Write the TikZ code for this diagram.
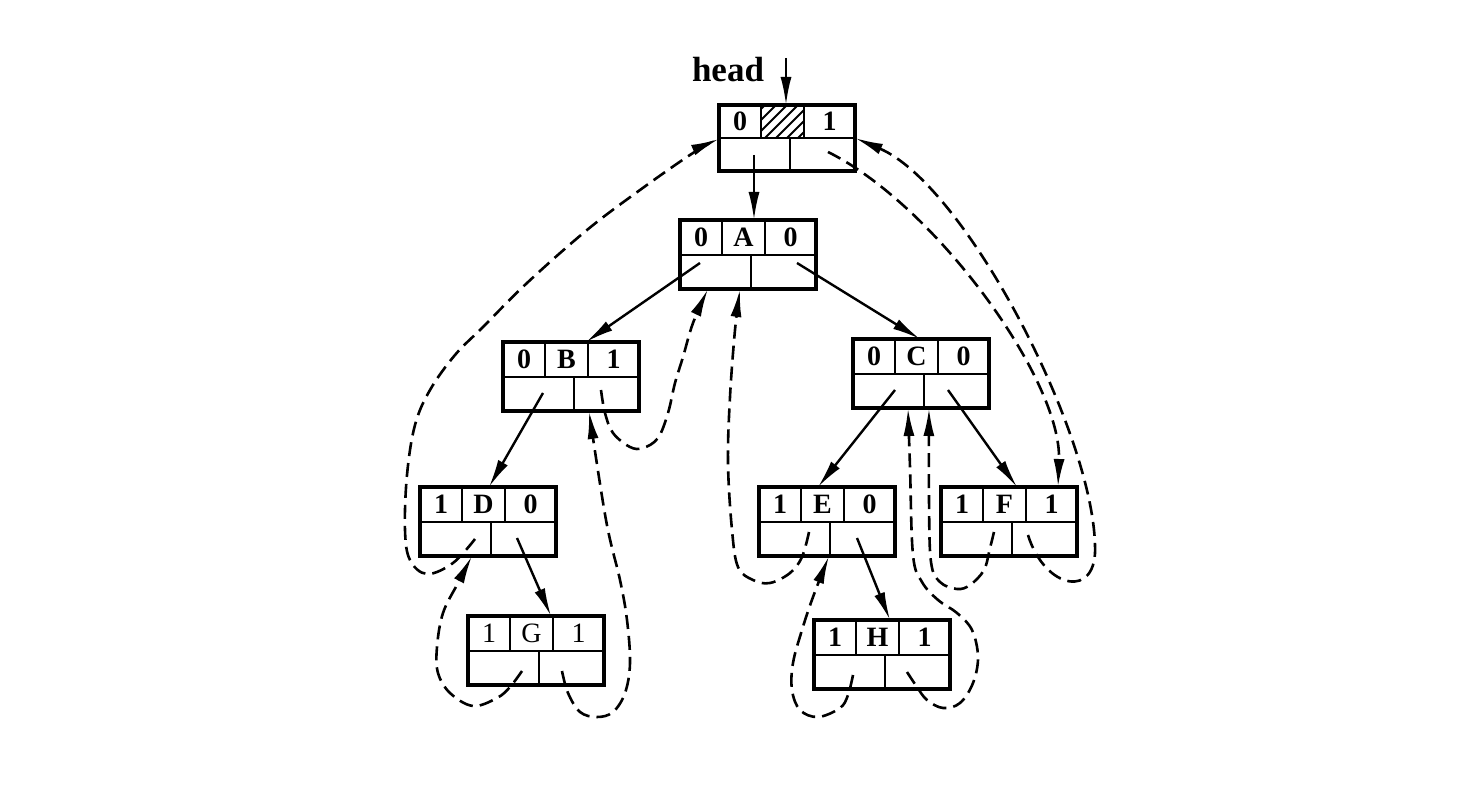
\documentclass[tikz,border=0pt]{standalone}
\usepackage{fontspec}
\setmainfont{Liberation Serif}
\usetikzlibrary{calc,arrows.meta}
\newcommand\bfl{\fontsize{14}{15}\selectfont\bfseries}
\newcommand\rgl{\fontsize{14}{15}\selectfont}
\newcommand\tbox[7]{%
  \node[box] (#1) at (#2,#3) {};
  \draw[div] ($(#1.north west)+(0,35)$) -- ($(#1.north east)+(0,35)$);
  \draw[div] ($(#1.north west)+(42,0)$) -- ($(#1.north west)+(42,35)$);
  \draw[div] ($(#1.north west)+(85,0)$) -- ($(#1.north west)+(85,35)$);
  \draw[div] ($(#1.north west)+(71,35)$) -- ($(#1.south west)+(71,0)$);
  \node[lab,font=#7] at ($(#1.north west)+(21,27)$) {#4};
  \node[lab,font=#7] at ($(#1.north west)+(63.5,27)$) {#5};
  \node[lab,font=#7] at ($(#1.north west)+(110.5,27)$) {#6};
}
\begin{document}
\begin{tikzpicture}[x=0.5pt,y=-0.5pt,
  box/.style={draw, line width=1.7pt, minimum width=68pt, minimum height=34.5pt,
    inner sep=0pt, outer sep=0pt, anchor=north west},
  div/.style={line width=1.2pt},
  lab/.style={anchor=base, inner sep=0pt},
  tree/.style={line width=1.2pt, -{Latex[length=14pt,width=5.5pt]}},
  thread/.style={line width=1.3pt, dash pattern=on 7pt off 3.5pt,
    -{Latex[length=14pt,width=5.5pt]}, smooth, tension=0.6}]
\useasboundingbox (0,0) rectangle (1480,790);

% head node
\node[lab, font=\fontsize{17.5}{18}\selectfont\bfseries] (headlbl) at (728,82) {head};
\node[box, minimum height=33pt] (head) at (719,105) {};
\begin{scope}
  \clip ($(head.north west)+(42,0)$) rectangle ($(head.north west)+(85,33)$);
  \foreach \i in {-40,-29,...,45}
    \draw[line width=1pt] ($(head.north west)+({42+\i},33)$) -- ++(36,-36);
\end{scope}
\draw[div] ($(head.north west)+(0,33)$) -- ($(head.north east)+(0,33)$);
\draw[div] ($(head.north west)+(42,0)$) -- ($(head.north west)+(42,33)$);
\draw[div] ($(head.north west)+(85,0)$) -- ($(head.north west)+(85,33)$);
\draw[div] ($(head.north west)+(71,33)$) -- ($(head.south west)+(71,0)$);
\node[lab,font=\bfl] at ($(head.north west)+(21,26)$) {0};
\node[lab,font=\bfl] at ($(head.north west)+(110.5,26)$) {1};

% tree nodes
\tbox{A}{680}{220}{0}{A}{0}{\bfl}
\tbox{B}{503}{342}{0}{B}{1}{\bfl}
\tbox{C}{853}{339}{0}{C}{0}{\bfl}
\tbox{D}{420}{487}{1}{D}{0}{\bfl}
\tbox{E}{759}{487}{1}{E}{0}{\bfl}
\tbox{F}{941}{487}{1}{F}{1}{\bfl}
\tbox{G}{468}{616}{1}{G}{1}{\rgl}
\tbox{H}{814}{620}{1}{H}{1}{\bfl}

% start points inside cells
\coordinate (htop) at (786,58);
\coordinate (hl) at (754,155);
\coordinate (hr) at (828,152);
\coordinate (Al) at (700,263);
\coordinate (Ar) at (797,263);
\coordinate (Bl) at (543,393);
\coordinate (Br) at (601,390);
\coordinate (Cl) at (895,390);
\coordinate (Cr) at (948,390);
\coordinate (Dl) at (475,539);
\coordinate (Dr) at (517,538);
\coordinate (El) at (809,532);
\coordinate (Er) at (857,538);
\coordinate (Fl) at (994,532);
\coordinate (Fr) at (1028,535);
\coordinate (Gl) at (522,671);
\coordinate (Gr) at (562,671);
\coordinate (Hl) at (853,675);
\coordinate (Hr) at (907,672);

% end points on box edges
\coordinate (hdT) at ($(head.north west)+(67,0)$);
\coordinate (hdW) at ($(head.north west)+(0,34)$);
\coordinate (hdE) at ($(head.north east)+(0,33)$);
\coordinate (AT) at ($(A.north west)+(74,0)$);
\coordinate (AB1) at ($(A.south west)+(28,0)$);
\coordinate (AB2) at ($(A.south west)+(60,0)$);
\coordinate (BT) at ($(B.north west)+(83,0)$);
\coordinate (BB) at ($(B.south west)+(86,0)$);
\coordinate (CT) at ($(C.north west)+(67,0)$);
\coordinate (CB1) at ($(C.south west)+(55,0)$);
\coordinate (CB2) at ($(C.south west)+(76,0)$);
\coordinate (DT) at ($(D.north west)+(69,0)$);
\coordinate (DB) at ($(D.south west)+(52,0)$);
\coordinate (ET) at ($(E.north west)+(59,0)$);
\coordinate (EB) at ($(E.south west)+(70,0)$);
\coordinate (FT) at ($(F.north west)+(76,0)$);
\coordinate (FT2) at ($(F.north west)+(117,0)$);
\coordinate (GT) at ($(G.north west)+(83,0)$);
\coordinate (HT) at ($(H.north west)+(76,0)$);

% tree links
\draw[tree] (htop) -- (hdT);
\draw[tree] (hl) -- (AT);
\draw[tree] (Al) -- (BT);
\draw[tree] (Ar) -- (CT);
\draw[tree] (Bl) -- (DT);
\draw[tree] (Dr) -- (GT);
\draw[tree] (Cl) -- (ET);
\draw[tree] (Cr) -- (FT);
\draw[tree] (Er) -- (HT);

% threads
\draw[thread] plot coordinates {(Dl) (453,563) (427,574) (410,560) (405,530) (407,475) (415,425) (430,390) (455,355) (483,327) (527,283) (587,230) (640,190) (693,153) (hdW)};
\draw[thread] plot coordinates {(Gl) (510,687) (497,698) (473,706) (450,693) (438,673) (437,647) (443,613) (458,583) (DB)};
\draw[thread] plot coordinates {(Gr) (568,693) (580,712) (597,717) (613,712) (625,693) (630,663) (627,620) (620,580) (606,520) (BB)};
\draw[thread] plot coordinates {(Br) (605,413) (613,433) (630,447) (643,448) (658,438) (668,413) (675,383) (683,357) (693,323) (AB1)};
\draw[thread] plot coordinates {(El) (802,557) (790,573) (770,583) (753,580) (738,567) (732,530) (728,463) (730,397) (735,330) (AB2)};
\draw[thread] plot coordinates {(Hl) (848,695) (840,708) (818,717) (800,710) (792,690) (793,663) (802,630) (813,597) (EB)};
\draw[thread] plot coordinates {(Hr) (917,687) (927,700) (943,708) (960,703) (973,683) (978,657) (972,630) (957,613) (938,600) (922,582) (913,555) (910,467) (CB1)};
\draw[thread] plot coordinates {(Fl) (990,548) (984,570) (970,585) (957,589) (940,582) (931,562) (929,500) (CB2)};
\draw[thread] (Fr) .. controls (1045,590) and (1098,600) .. (1095,545)
  .. controls (1092,430) and (965,185) .. (hdE);
\draw[thread] (hr) .. controls (935,205) and (1062,380) .. (FT2);
\end{tikzpicture}
\end{document}
